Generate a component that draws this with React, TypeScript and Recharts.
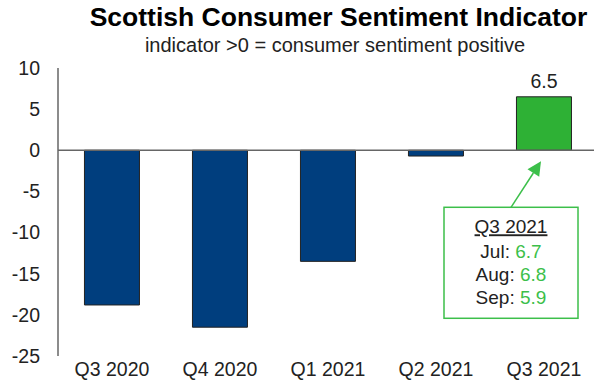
import { BarChart, Bar, XAxis, YAxis, Cell, LabelList, ReferenceLine, ReferenceDot } from 'recharts';

const quarters = ['Q3 2020', 'Q4 2020', 'Q1 2021', 'Q2 2021', 'Q3 2021'];
const sentiment = [-18.8, -21.5, -13.5, -0.7, 6.5];
const yTicks = [-25, -20, -15, -10, -5, 0, 5, 10];

const calloutQuarter = 'Q3 2021';
const months = ['Jul', 'Aug', 'Sep'];
const monthValues = [6.7, 6.8, 5.9];

const data = quarters.map((q, i) => ({ quarter: q, value: sentiment[i] }));

const FONT = '"Liberation Sans", Arial, sans-serif';
const NAVY = '#003E7E';
const GREEN = '#2EB135';
const LIGHT_GREEN = '#3CBF4A';

// callout box + arrow, drawn relative to the Q3 2021 / zero point
const Callout = (props: any) => {
    const { cx, cy } = props;
    const boxX = cx - 100;
    const boxY = cy + 57;
    const boxW = 134;
    const boxH = 111;
    const midX = boxX + boxW / 2;
    const tipX = cx - 3;
    const tipY = cy + 11;
    const ang = Math.atan2(tipY - boxY, tipX - midX);
    const len = 14;
    const wing = 7;
    const bx = tipX - len * Math.cos(ang);
    const by = tipY - len * Math.sin(ang);
    const px = -Math.sin(ang) * wing;
    const py = Math.cos(ang) * wing;
    return (
        <g fontFamily={FONT}>
            <line x1={midX} y1={boxY} x2={bx} y2={by} stroke={LIGHT_GREEN} strokeWidth={1.5} />
            <polygon
                points={`${tipX},${tipY} ${bx + px},${by + py} ${bx - px},${by - py}`}
                fill={LIGHT_GREEN}
            />
            <rect x={boxX} y={boxY} width={boxW} height={boxH} fill="#fff" stroke={LIGHT_GREEN} strokeWidth={1.5} />
            <text x={midX} y={boxY + 26} textAnchor="middle" fontSize={19} fill="#222" textDecoration="underline">
                {calloutQuarter}
            </text>
            {months.map((m, i) => (
                <text key={m} x={midX} y={boxY + 51 + i * 23} textAnchor="middle" fontSize={19} fill="#222">
                    {m}: <tspan fill={LIGHT_GREEN}>{monthValues[i].toFixed(1)}</tspan>
                </text>
            ))}
        </g>
    );
};

const App = () => {
    return (
        <div style={{ position: 'absolute', left: 0, top: 0, width: 594, height: 382, overflow: 'hidden', background: '#fff', fontFamily: FONT }}>
            <div style={{ position: 'absolute', left: 0, width: 677, top: 2, textAlign: 'center', fontSize: 26.5, fontWeight: 'bold', color: '#000', whiteSpace: 'nowrap' }}>
                Scottish Consumer Sentiment Indicator
            </div>
            <div style={{ position: 'absolute', left: 0, width: 670, top: 34, textAlign: 'center', fontSize: 20, color: '#222', whiteSpace: 'nowrap' }}>
                indicator &gt;0 = consumer sentiment positive
            </div>
            <BarChart
                width={600}
                height={382}
                data={data}
                margin={{ top: 68, right: 2, bottom: 0, left: 0 }}
                barCategoryGap="24.5%"
                style={{ position: 'absolute', left: 0, top: 0 }}
            >
                <XAxis
                    dataKey="quarter"
                    axisLine={false}
                    tickLine={false}
                    tickSize={0}
                    tickMargin={6}
                    height={26}
                    tick={{ fontSize: 19.5, fill: '#222', fontFamily: FONT }}
                />
                <YAxis
                    domain={[-25, 10]}
                    ticks={yTicks}
                    width={58}
                    tickLine={false}
                    tickSize={0}
                    tickMargin={18}
                    axisLine={{ stroke: '#666', strokeWidth: 1.5 }}
                    tick={{ fontSize: 19.5, fill: '#222', fontFamily: FONT }}
                />
                <ReferenceLine y={0} stroke="#666" strokeWidth={1.5} />
                <Bar dataKey="value" stroke="#222" strokeWidth={1} isAnimationActive={false}>
                    {data.map((d) => (
                        <Cell key={d.quarter} fill={d.value > 0 ? GREEN : NAVY} />
                    ))}
                    <LabelList
                        dataKey="value"
                        position="top"
                        offset={9}
                        fontSize={19.5}
                        fill="#222"
                        fontFamily={FONT}
                        formatter={(v: any) => (v > 0 ? Number(v).toFixed(1) : '')}
                    />
                </Bar>
                <ReferenceDot x={calloutQuarter} y={0} r={0} ifOverflow="visible" shape={Callout} />
            </BarChart>
        </div>
    );
};

export default App;
